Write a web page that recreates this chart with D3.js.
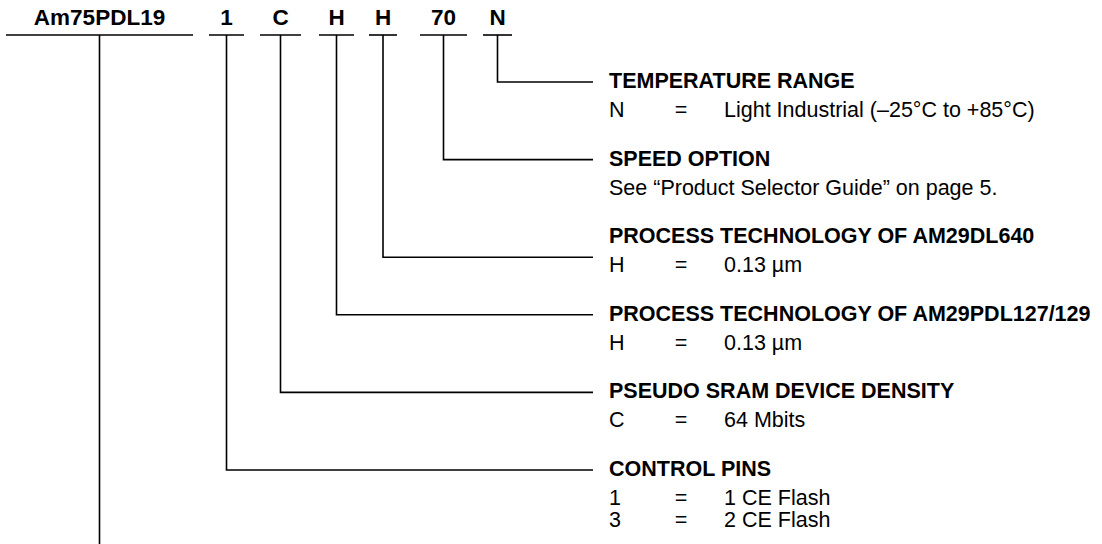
<!DOCTYPE html>
<html>
<head>
<meta charset="utf-8">
<script src="https://cdn.jsdelivr.net/npm/d3@7/dist/d3.min.js"></script>
<style>
  html, body { margin: 0; padding: 0; background: #fff; }
  svg { display: block; }
  text { font-family: "Liberation Sans", Arial, Helvetica, sans-serif; fill: #000; }
</style>
</head>
<body>
<svg id="chart" width="1102" height="544"></svg>
<script>
// ---- data ----
const codes = ["Am75PDL19", "1", "C", "H", "H", "70", "N"];
const fieldTitles = [
  "TEMPERATURE RANGE",
  "SPEED OPTION",
  "PROCESS TECHNOLOGY OF AM29DL640",
  "PROCESS TECHNOLOGY OF AM29PDL127/129",
  "PSEUDO SRAM DEVICE DENSITY",
  "CONTROL PINS"
];
const fieldCodeIndex = [6, 5, 4, 3, 2, 1];
const optionKeys = [["N"], [""], ["H"], ["H"], ["C"], ["1", "3"]];
const optionValues = [
  ["Light Industrial (\u201325\u00B0C to +85\u00B0C)"],
  ["See \u201CProduct Selector Guide\u201D on page 5."],
  ["0.13 \u00B5m"],
  ["0.13 \u00B5m"],
  ["64 Mbits"],
  ["1 CE Flash", "2 CE Flash"]
];

// ---- layout ----
const W = 1102, H = 544;
const segExtents = [[6, 193], [209, 244], [260, 301], [319, 354], [369, 397], [420, 467], [483, 512]];
const connectorShift = [0, 0, 20, 0, 0, 0]; // AM29DL640 leader sits lower in the original
const underlineY = 35;
const codeBaseline = 25;
const leaderEndX = 593;
const keyX = 609, eqX = 681, valX = 724;
const strokeW = 1.6;
const fs = 21.5;

const svg = d3.select("#chart");
svg.append("rect").attr("width", W).attr("height", H).attr("fill", "#fff");

const yRow = d3.scalePoint().domain(fieldTitles).range([82, 470]);
const xCenter = d3.scaleOrdinal().domain(d3.range(codes.length))
  .range(segExtents.map(e => (e[0] + e[1]) / 2));

// code letters
svg.selectAll("text.code").data(codes).join("text")
  .attr("class", "code")
  .attr("x", (d, i) => xCenter(i))
  .attr("y", codeBaseline)
  .attr("text-anchor", "middle")
  .attr("font-weight", "bold")
  .attr("font-size", 22.5)
  .text(d => d);

// underlines
svg.selectAll("line.under").data(codes).join("line")
  .attr("class", "under")
  .attr("x1", (d, i) => segExtents[i][0])
  .attr("x2", (d, i) => segExtents[i][1])
  .attr("y1", underlineY).attr("y2", underlineY)
  .attr("stroke", "#000").attr("stroke-width", strokeW);

// base part number vertical line down to the bottom
svg.append("line")
  .attr("x1", xCenter(0)).attr("x2", xCenter(0))
  .attr("y1", underlineY).attr("y2", H)
  .attr("stroke", "#000").attr("stroke-width", strokeW);

// leaders
const fields = fieldTitles.map((t, i) => ({
  title: t, ci: fieldCodeIndex[i], keys: optionKeys[i], vals: optionValues[i],
  cy: yRow(t) + connectorShift[i], hy: yRow(t)
}));

svg.selectAll("path.leader").data(fields).join("path")
  .attr("class", "leader")
  .attr("d", d => d3.line()([[xCenter(d.ci), underlineY], [xCenter(d.ci), d.cy], [leaderEndX, d.cy]]))
  .attr("fill", "none")
  .attr("stroke", "#000").attr("stroke-width", strokeW)
  .attr("stroke-linejoin", "miter");

// field titles
svg.selectAll("text.title").data(fields).join("text")
  .attr("class", "title")
  .attr("x", keyX)
  .attr("y", d => d.hy + 6)
  .attr("font-weight", "bold")
  .attr("font-size", fs)
  .text(d => d.title);

// options
fields.forEach(f => {
  f.vals.forEach((v, j) => {
    const by = f.hy + 6 + 29 + j * 22;
    const k = f.keys[j];
    if (k) {
      svg.append("text").attr("x", keyX).attr("y", by).attr("font-size", fs).text(k);
      svg.append("text").attr("x", eqX).attr("y", by).attr("text-anchor", "middle").attr("font-size", fs).text("=");
      svg.append("text").attr("x", valX).attr("y", by).attr("font-size", fs).text(v);
    } else {
      svg.append("text").attr("x", keyX).attr("y", by).attr("font-size", fs).text(v);
    }
  });
});
</script>
</body>
</html>
